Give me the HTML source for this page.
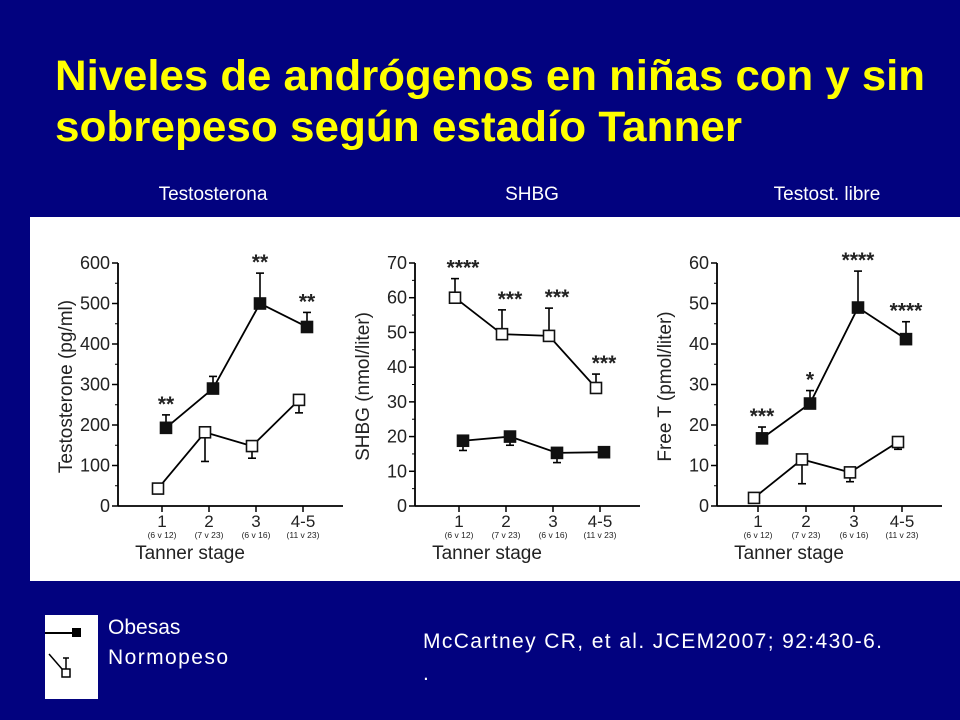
<!DOCTYPE html>
<html><head><meta charset="utf-8"><style>
body{margin:0;width:960px;height:720px;background:#02027f;overflow:hidden;font-family:"Liberation Sans",Arial,sans-serif}
svg{display:block}
</style></head><body>
<svg width="960" height="720" xmlns="http://www.w3.org/2000/svg" id="root">
<text x="55" y="90" fill="#ffff00" font-size="35" font-weight="bold" textLength="870" lengthAdjust="spacingAndGlyphs" style="font-size:43px">Niveles de andrógenos en niñas con y sin</text>
<text x="55" y="141" fill="#ffff00" font-weight="bold" textLength="687" lengthAdjust="spacingAndGlyphs" style="font-size:43px">sobrepeso según estadío Tanner</text>
<text x="213" y="200" fill="#fff" font-size="19" text-anchor="middle">Testosterona</text>
<text x="532" y="200" fill="#fff" font-size="19" text-anchor="middle">SHBG</text>
<text x="827" y="200" fill="#fff" font-size="19" text-anchor="middle">Testost. libre</text>
<rect x="30" y="217" width="930" height="364" fill="#fff"/>
<g id="charts"></g>
<rect x="45" y="615" width="53" height="84" fill="#fff"/>
<line x1="45" y1="633" x2="73" y2="633" stroke="#000" stroke-width="2"/>
<rect x="72" y="628" width="9" height="9" fill="#000"/>
<line x1="49" y1="654" x2="62" y2="669" stroke="#000" stroke-width="1.5"/>
<line x1="66" y1="658" x2="66" y2="669" stroke="#000" stroke-width="1.5"/>
<line x1="63" y1="658" x2="69" y2="658" stroke="#000" stroke-width="1.5"/>
<rect x="62" y="669" width="8" height="8" fill="#fff" stroke="#000" stroke-width="1.5"/>
<text x="108" y="634" fill="#fff" font-size="21">Obesas</text>
<text x="108" y="664" fill="#fff" font-size="21" textLength="120">Normopeso</text>
<text x="423" y="648" fill="#fff" font-size="21" textLength="459">McCartney CR, et al. JCEM2007; 92:430-6.</text>
<text x="423" y="680" fill="#fff" font-size="21">.</text>
</svg>
<script>
const categories=["1","2","3","4-5"];
const groups=["(6 v 12)","(7 v 23)","(6 v 16)","(11 v 23)"];
const tClosed=[193,290,500,442];
const tClosedErr=[225,320,575,478];
const tOpen=[43,182,148,262];
const tOpenErr=[38,110,118,230];
const tStars=["**","","**","**"];
const tTicks=[0,100,200,300,400,500,600];
const sOpen=[60,49.5,49,34];
const sOpenErr=[65.5,56.5,57,38];
const sClosed=[18.8,20,15.3,15.5];
const sClosedErr=[16,17.5,12.5,14.5];
const sStars=["****","***","***","***"];
const sTicks=[0,10,20,30,40,50,60,70];
const fClosed=[16.7,25.3,49,41.2];
const fClosedErr=[19.5,28.5,58,45.5];
const fOpen=[2,11.5,8.3,15.8];
const fOpenErr=[2,5.5,6,14];
const fStars=["***","*","****","****"];
const fTicks=[0,10,20,30,40,50,60];

const NS="http://www.w3.org/2000/svg";
const root=document.getElementById('charts');
function mk(tag,attrs,parent){const e=document.createElementNS(NS,tag);for(const k in attrs)e.setAttribute(k,attrs[k]);(parent||root).appendChild(e);return e;}

function chart(cfg){
  const g=mk('g',{});
  
  
  const y0=506,y1=263,max=cfg.ticks[cfg.ticks.length-1];
  const Y=v=>y0-(v/max)*(y0-y1);
  const X=i=>cfg.x0+i*cfg.dx;
  const ax=mk('line',{x1:cfg.ax,y1:y1,x2:cfg.ax,y2:y0,stroke:'#000','stroke-width':1.8},g);
  
  
  const bx=mk('line',{x1:cfg.ax,y1:y0,x2:cfg.ax+225,y2:y0,stroke:'#000','stroke-width':1.8},g);
  
  
  cfg.ticks.forEach((t,i)=>{
    mk('line',{x1:cfg.ax-6,y1:Y(t),x2:cfg.ax,y2:Y(t),stroke:'#000','stroke-width':1.5},g);
    if(i<cfg.ticks.length-1) mk('line',{x1:cfg.ax-3,y1:Y(t+max/(cfg.ticks.length-1)/2),x2:cfg.ax,y2:Y(t+max/(cfg.ticks.length-1)/2),stroke:'#000','stroke-width':1},g);
    const tl=mk('text',{x:cfg.ax-8,y:Y(t)+6,'font-size':18,'text-anchor':'end',fill:'#222'},g);
    tl.textContent=t;
    
    
  });
  categories.forEach((c,i)=>{
    mk('line',{x1:X(i),y1:y0,x2:X(i),y2:y0+6,stroke:'#000','stroke-width':1.5},g);
    const t=mk('text',{x:X(i),y:y0+21,'font-size':17,'text-anchor':'middle',fill:'#222'},g);
    t.textContent=c;
    
    
    const s=mk('text',{x:X(i),y:y0+32,'font-size':8.5,'text-anchor':'middle',fill:'#222'},g);
    s.textContent=groups[i];
    
    
  });
  const xt=mk('text',{x:cfg.ax+72,y:y0+53,'font-size':19,'text-anchor':'middle',fill:'#222'},g);
  xt.textContent='Tanner stage';
  
  
  const yt=mk('text',{x:0,y:0,'font-size':19,'text-anchor':'middle',fill:'#222',transform:`translate(${cfg.ax-46},${(y0+y1)/2+2}) rotate(-90)`},g);
  yt.textContent=cfg.ytitle;
  
  
  function series(vals,err,off,filled,nm){
    const pts=vals.map((v,i)=>[X(i)+off,Y(v)]);
    const pl=mk('polyline',{points:pts.map(p=>p.join(',')).join(' '),fill:'none',stroke:'#000','stroke-width':1.8},g);
    
    
    vals.forEach((v,i)=>{
      const x=X(i)+off,ye=Y(err[i]);
      if(Math.abs(err[i]-v)>0.01){
        mk('line',{x1:x,y1:Y(v),x2:x,y2:ye,stroke:'#000','stroke-width':1.6},g);
        mk('line',{x1:x-4,y1:ye,x2:x+4,y2:ye,stroke:'#000','stroke-width':1.6},g);
      }
      const r=mk('rect',{x:x-5.5,y:Y(v)-5.5,width:11,height:11,fill:filled?'#111':'#fff',stroke:'#111','stroke-width':1.6},g);
      
      
    });
  }
  series(cfg.open,cfg.openErr,-4,false,'normopeso');
  series(cfg.closed,cfg.closedErr,4,true,'obesas');
  cfg.stars.forEach((s,i)=>{
    if(!s)return;
    const top=Math.max(cfg.closedErr[i],cfg.openErr[i],cfg.closed[i],cfg.open[i]);
    const st=mk('text',{x:X(i)+4,y:Y(top)-4,'font-size':21,'font-weight':'bold','text-anchor':'middle',fill:'#222'},g);
    st.textContent=s;
    
    
  });
}
chart({name:'testosterone-chart',ax:118,x0:162,dx:47,ticks:tTicks,ytitle:'Testosterone (pg/ml)',closed:tClosed,closedErr:tClosedErr,open:tOpen,openErr:tOpenErr,stars:tStars});
chart({name:'shbg-chart',ax:415,x0:459,dx:47,ticks:sTicks,ytitle:'SHBG (nmol/liter)',closed:sClosed,closedErr:sClosedErr,open:sOpen,openErr:sOpenErr,stars:sStars});
chart({name:'free-t-chart',ax:717,x0:758,dx:48,ticks:fTicks,ytitle:'Free T (pmol/liter)',closed:fClosed,closedErr:fClosedErr,open:fOpen,openErr:fOpenErr,stars:fStars});
</script>
</body></html>
